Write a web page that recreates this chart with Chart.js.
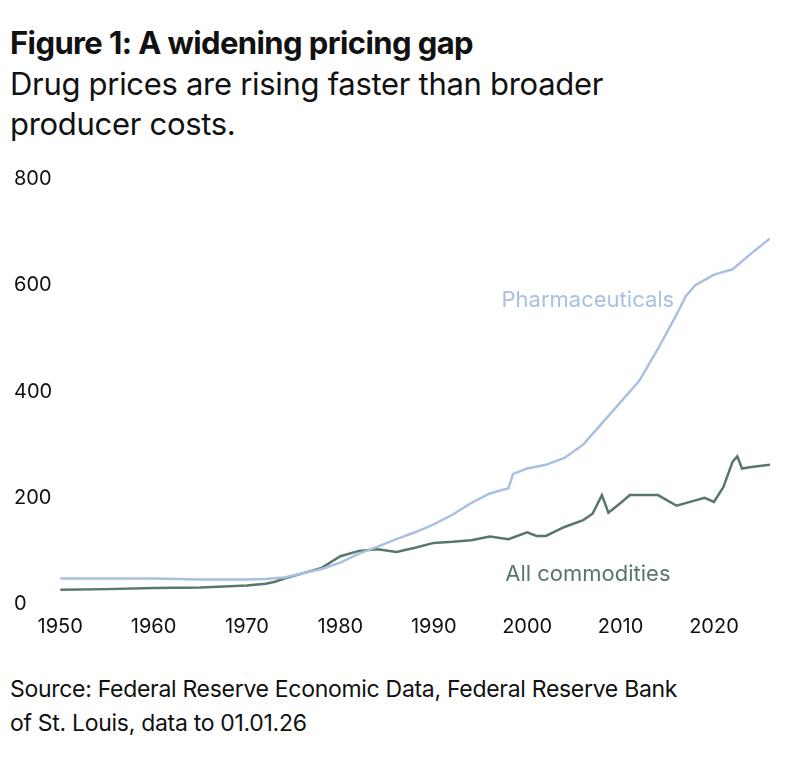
<!DOCTYPE html>
<html>
<head>
<meta charset="utf-8">
<script src="https://cdn.jsdelivr.net/npm/chart.js@4"></script>
<style>
  body { margin: 0; background: #fff; font-family: Inter, "Noto Sans", sans-serif; color: #111; }
  #wrap { width: 800px; height: 757px; position: relative; }
  h1 { position: absolute; left: 10px; top: 24px; margin: 0; font-size: 31px; font-weight: 700; letter-spacing: -0.6px; white-space: nowrap; }
  h2 { position: absolute; left: 10px; top: 64px; margin: 0; font-size: 31px; font-weight: 400; line-height: 40px; width: 660px; letter-spacing: -0.3px; }
  #box { position: absolute; left: 0; top: 152px; width: 790px; height: 490px; }
  #src { position: absolute; left: 10px; top: 672px; font-size: 23px; line-height: 34px; width: 790px; letter-spacing: -0.3px; }
</style>
</head>
<body>
<div id="wrap">
  <h1>Figure 1: A widening pricing gap</h1>
  <h2>Drug prices are rising faster than broader producer costs.</h2>
  <div id="box"><canvas id="chart" width="790" height="490"></canvas></div>
  <div id="src">Source: Federal Reserve Economic Data, Federal Reserve Bank<br>of St. Louis, data to 01.01.26</div>
</div>
<script>
const years = [1950,1955,1960,1965,1970,1972,1974,1976,1978,1980,1982,1984,1986,1988,1990,1992,1994,1996,1998,1998.5,2000,2002,2004,2006,2008,2010,2012,2014,2016,2017,2018,2020,2022,2024,2026];
const pharma = [48,48,48,46,46,47,50,58,66,78,95,108,122,135,150,168,190,208,218,245,255,262,275,300,340,380,420,480,545,580,600,620,630,660,688];
const commYears = [1950,1955,1960,1965,1970,1972,1973,1974,1976,1978,1980,1982,1984,1986,1988,1990,1992,1994,1996,1998,2000,2001,2002,2004,2006,2007,2008,2008.7,2010,2011,2014,2015,2016,2018,2019,2020,2021,2022,2022.5,2023,2024,2026];
const comm = [27,28,30,31,35,38,42,48,58,68,90,100,103,98,106,115,117,120,127,122,135,128,128,145,158,170,205,172,190,205,205,195,185,195,200,192,220,268,278,255,258,262];
const xTicks = [1950,1960,1970,1980,1990,2000,2010,2020];

const labels = {
  id: 'labels',
  afterDatasetsDraw(c) {
    const { ctx, scales: { x, y } } = c;
    ctx.save();
    ctx.font = '22px Inter, "Noto Sans", sans-serif';
    ctx.textAlign = 'center';
    ctx.textBaseline = 'middle';
    ctx.fillStyle = '#a9c0e0';
    ctx.fillText('Pharmaceuticals', x.getPixelForValue(2006.5), y.getPixelForValue(572));
    ctx.fillStyle = '#58776a';
    ctx.fillText('All commodities', x.getPixelForValue(2006.5), y.getPixelForValue(55));
    ctx.restore();
  }
};

new Chart(document.getElementById('chart'), {
  type: 'line',
  data: {
    datasets: [
      { data: years.map((v, i) => ({ x: v, y: pharma[i] })), borderColor: '#a9c0e0', borderWidth: 2.5, pointRadius: 0, tension: 0 },
      { data: commYears.map((v, i) => ({ x: v, y: comm[i] })), borderColor: '#58776a', borderWidth: 2.5, pointRadius: 0, tension: 0 }
    ]
  },
  options: {
    responsive: false,
    animation: false,
    layout: { padding: { top: 27, right: 20, left: 14 } },
    plugins: { legend: { display: false }, tooltip: { enabled: false } },
    scales: {
      x: {
        type: 'linear', min: 1950, max: 2026,
        grid: { display: false }, border: { display: false },
        afterBuildTicks: ax => { ax.ticks = xTicks.map(v => ({ value: v })); },
        ticks: { maxRotation: 0, autoSkip: false, color: '#111', font: { size: 20, family: 'Inter' }, callback: v => String(v) }
      },
      y: {
        min: 0, max: 800,
        grid: { display: false }, border: { display: false },
        ticks: { stepSize: 200, color: '#111', font: { size: 20, family: 'Inter' }, padding: 0, crossAlign: 'far' }
      }
    }
  },
  plugins: [labels]
});
</script>
</body>
</html>
